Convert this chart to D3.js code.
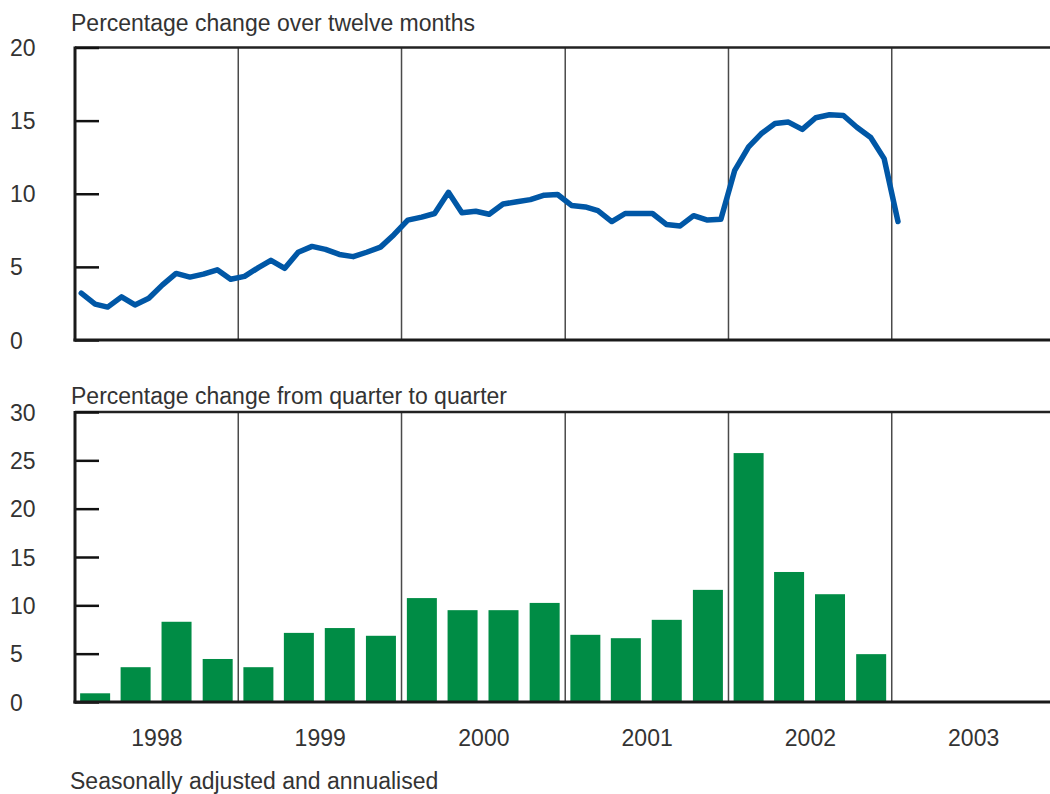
<!DOCTYPE html>
<html>
<head>
<meta charset="utf-8">
<script src="https://cdn.jsdelivr.net/npm/d3@7"></script>
<style>
  body { margin: 0; background: #fff; }
  svg text { font-family: "Liberation Sans", Arial, sans-serif; fill: #333; }
</style>
</head>
<body>
<svg width="1050" height="794"></svg>
<script>
// twelve-month % change, monthly Jan 1998 - Jan 2003
var yearlyChange = [3.2, 2.45, 2.25, 2.95, 2.4, 2.85, 3.75, 4.55, 4.3, 4.5, 4.8, 4.15,
    4.35, 4.95, 5.45, 4.9, 6.0, 6.4, 6.2, 5.85, 5.7, 6.0, 6.35, 7.2,
    8.2, 8.4, 8.65, 10.1, 8.7, 8.8, 8.6, 9.3, 9.45, 9.6, 9.9, 9.95,
    9.2, 9.1, 8.85, 8.1, 8.65, 8.65, 8.65, 7.9, 7.8, 8.5, 8.2, 8.25,
    11.6, 13.2, 14.1, 14.8, 14.9, 14.4, 15.2, 15.4, 15.35, 14.55, 13.85, 12.4,
    8.1];
// quarter-on-quarter % change, annualised, 1998Q1 - 2002Q4
var quarterChange = [0.9, 3.6, 8.3, 4.45, 3.6, 7.15, 7.65, 6.85,
    10.75, 9.5, 9.5, 10.25, 6.95, 6.6, 8.5, 11.6,
    25.75, 13.45, 11.15, 4.95];
var years = [1998, 1999, 2000, 2001, 2002, 2003];
var topTicks = [0, 5, 10, 15, 20];
var bottomTicks = [0, 5, 10, 15, 20, 25, 30];

var svg = d3.select("svg");
var left = 75, right = 1050;

var x = d3.scaleTime()
    .domain([new Date(1998, 0, 1), new Date(2004, 0, 1)])
    .range([left, 1055]);

var yTop = d3.scaleLinear().domain([0, 20]).range([340, 47.5]);
var yBot = d3.scaleLinear().domain([0, 30]).range([702, 412]);

function panel(y, ticks, title, titleY) {
    var g = svg.append("g");
    var y0 = y.range()[0], y1 = y.range()[1];

    // year dividers
    g.selectAll("line.div")
        .data(years.slice(1))
        .enter().append("line")
        .attr("class", "div")
        .attr("x1", d => x(new Date(d, 0, 1)))
        .attr("x2", d => x(new Date(d, 0, 1)))
        .attr("y1", y1).attr("y2", y0)
        .attr("stroke", "#4a4a4a")
        .attr("stroke-width", 1.5);

    // top border
    g.append("line")
        .attr("x1", left).attr("x2", right)
        .attr("y1", y1).attr("y2", y1)
        .attr("stroke", "#222").attr("stroke-width", 2.5);

    var axis = g.append("g")
        .attr("transform", "translate(" + left + ",0)")
        .call(d3.axisLeft(y).tickValues(ticks).tickSize(-24).tickFormat(d3.format("d")));
    axis.select(".domain").remove();
    axis.selectAll(".tick line").attr("stroke", "#111").attr("stroke-width", 2.5);
    axis.selectAll(".tick text")
        .attr("x", 10 - left)
        .attr("dy", "0.35em")
        .attr("text-anchor", "start")
        .style("font-size", "23px")
        .style("fill", "#333");

    g.append("text")
        .attr("x", 71).attr("y", titleY)
        .style("font-size", "23px")
        .text(title);

    return g;
}

var gTop = panel(yTop, topTicks, "Percentage change over twelve months", 31);
var gBot = panel(yBot, bottomTicks, "Percentage change from quarter to quarter", 404);

// line
var line = d3.line()
    .x((d, i) => x(new Date(1998, i, 15)))
    .y(d => yTop(d));

gTop.append("path")
    .datum(yearlyChange)
    .attr("fill", "none")
    .attr("stroke", "#0057a6")
    .attr("stroke-width", 5.5)
    .attr("stroke-linejoin", "round")
    .attr("stroke-linecap", "round")
    .attr("d", line);

// bars
var barW = 30;
gBot.selectAll("rect.bar")
    .data(quarterChange)
    .enter().append("rect")
    .attr("class", "bar")
    .attr("x", (d, i) => {
        var a = x(new Date(1998, i * 3, 1)), b = x(new Date(1998, i * 3 + 3, 1));
        return (a + b) / 2 - barW / 2;
    })
    .attr("y", d => yBot(d))
    .attr("width", barW)
    .attr("height", d => yBot(0) - yBot(d))
    .attr("fill", "#008c45");

// frame: left axis lines and base lines
[[yTop], [yBot]].forEach(function(p) {
    var y = p[0];
    svg.append("line")
        .attr("x1", left).attr("x2", left)
        .attr("y1", y.range()[1] - 1).attr("y2", y.range()[0] + 1.5)
        .attr("stroke", "#1a1a1a").attr("stroke-width", 3);
    svg.append("line")
        .attr("x1", left - 1.5).attr("x2", right)
        .attr("y1", y.range()[0]).attr("y2", y.range()[0])
        .attr("stroke", "#1a1a1a").attr("stroke-width", 3);
});

// year labels
var xAxis = svg.append("g")
    .attr("transform", "translate(0,702)")
    .call(d3.axisBottom(x)
        .tickValues(years.map(d => new Date(d, 6, 2)))
        .tickSize(0)
        .tickPadding(0)
        .tickFormat(d3.timeFormat("%Y")));
xAxis.select(".domain").remove();
xAxis.selectAll(".tick text")
    .attr("y", 44)
    .attr("dy", 0)
    .style("font-size", "23px")
    .style("fill", "#333");

svg.append("text")
    .attr("x", 70).attr("y", 789)
    .style("font-size", "23px")
    .text("Seasonally adjusted and annualised");
</script>
</body>
</html>
